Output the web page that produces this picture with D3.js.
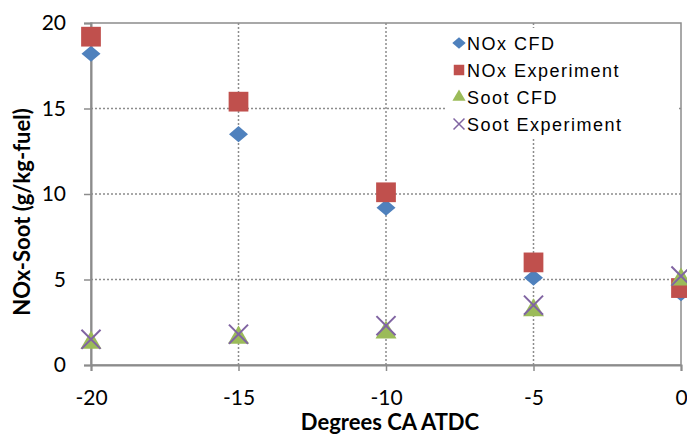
<!DOCTYPE html>
<meta charset="utf-8">
<style>
body { margin: 0; background: #fff; }
text { font-family: "Lato", "Open Sans", sans-serif; }
.tick text { font-size: 21px; fill: #000; }
.title { font-size: 22px; font-weight: bold; }
.legend text { font-family: "Liberation Sans", Arial, sans-serif; font-size: 18px; letter-spacing: 1.5px; }
</style>
<svg width="687" height="437"></svg>
<script src="https://d3js.org/d3.v7.min.js"></script>
<script>

// data
var crankAngle = [-20, -15, -10, -5, 0];
var noxCFD  = [18.2, 13.5, 9.2, 5.1, 4.2];
var noxExp  = [19.2, 15.4, 10.1, 6.0, 4.5];
var sootCFD = [1.3, 1.6, 1.9, 3.2, 5.0];
var sootExp = [1.5, 1.8, 2.3, 3.5, 5.2];
var xTicks = [-20, -15, -10, -5, 0];
var yTicks = [0, 5, 10, 15, 20];

var series = [
  {name: "NOx CFD", values: noxCFD, color: "#4F81BD", shape: "diamond"},
  {name: "NOx Experiment", values: noxExp, color: "#C0504D", shape: "square"},
  {name: "Soot CFD", values: sootCFD, color: "#9BBB59", shape: "triangle"},
  {name: "Soot Experiment", values: sootExp, color: "#8064A2", shape: "cross"}
];

var svg = d3.select("svg");
var pLeft = 91, pRight = 681, pTop = 23, pBottom = 365;

var x = d3.scaleLinear().domain([-20, 0]).range([pLeft, pRight]);
var y = d3.scaleLinear().domain([0, 20]).range([pBottom, pTop]);

// gridlines (dotted)
svg.append("g").selectAll("line")
  .data(yTicks.slice(1, -1)).enter().append("line")
  .attr("x1", pLeft).attr("x2", pRight)
  .attr("y1", d => y(d)).attr("y2", d => y(d))
  .attr("stroke", "#8c8c8c").attr("stroke-width", 1.5).attr("stroke-dasharray", "2,2");
svg.append("g").selectAll("line")
  .data(xTicks.slice(1, -1)).enter().append("line")
  .attr("x1", d => x(d)).attr("x2", d => x(d))
  .attr("y1", pTop).attr("y2", pBottom)
  .attr("stroke", "#8c8c8c").attr("stroke-width", 1.5).attr("stroke-dasharray", "2,2");

// plot border
svg.append("rect")
  .attr("x", pLeft).attr("y", pTop)
  .attr("width", pRight - pLeft).attr("height", pBottom - pTop)
  .attr("fill", "none").attr("stroke", "#8c8c8c").attr("stroke-width", 1.5);

// axes
var xAxis = svg.append("g")
  .attr("transform", "translate(0," + pBottom + ")")
  .call(d3.axisBottom(x).tickValues(xTicks).tickFormat(d => String(d)).tickSize(6).tickPadding(19));
var yAxis = svg.append("g")
  .attr("transform", "translate(" + pLeft + ",0)")
  .call(d3.axisLeft(y).tickValues(yTicks).tickFormat(d => String(d)).tickSize(7).tickPadding(18));
[xAxis, yAxis].forEach(function(a) {
  a.select(".domain").attr("stroke", "#8c8c8c").attr("stroke-width", 2);
  a.selectAll(".tick line").attr("stroke", "#8c8c8c").attr("stroke-width", 1.5);
});

// excel-like wide diamond
var wideDiamond = {
  draw: function(ctx, size) {
    var w = Math.sqrt(size) * 0.75, h = w * 0.85;
    ctx.moveTo(-w, 0); ctx.lineTo(0, -h); ctx.lineTo(w, 0); ctx.lineTo(0, h); ctx.closePath();
  }
};

var symbolFor = {
  diamond: d3.symbol().type(wideDiamond).size(160),
  square: d3.symbol().type(d3.symbolSquare).size(390),
  triangle: d3.symbol().type(d3.symbolTriangle).size(190),
  cross: d3.symbol().type(d3.symbolTimes).size(240)
};
function drawMarker(sel, s, sym, sw) {
  sel.append("path")
    .attr("d", sym[s.shape])
    .attr("fill", s.shape == "cross" ? "none" : s.color)
    .attr("stroke", s.shape == "cross" ? s.color : "none")
    .attr("stroke-width", sw);
}

series.forEach(function(s) {
  svg.append("g").selectAll("g")
    .data(s.values).enter().append("g")
    .attr("transform", (d, i) => "translate(" + x(crankAngle[i]) + "," + y(d) + ")")
    .each(function() { drawMarker(d3.select(this), s, symbolFor, 2); });
});

// legend
var small = {
  diamond: d3.symbol().type(wideDiamond).size(80),
  square: d3.symbol().type(d3.symbolSquare).size(110),
  triangle: d3.symbol().type(d3.symbolTriangle).size(75),
  cross: d3.symbol().type(d3.symbolTimes).size(80)
};
var legend = svg.append("g").attr("class", "legend");
legend.append("rect")
  .attr("x", 446).attr("y", 28).attr("width", 233).attr("height", 110)
  .attr("fill", "#fff");
var rows = legend.selectAll("g").data(series).enter().append("g")
  .attr("transform", (d, i) => "translate(459," + (43 + i * 27) + ")");
rows.each(function(s) {
  var g = d3.select(this);
  drawMarker(g, s, small, 1.5);
  g.append("text").attr("x", 8).attr("y", 6.5).text(s.name);
});

// axis titles
svg.append("text").attr("class", "title")
  .attr("x", 390).attr("y", 430).attr("text-anchor", "middle")
  .text("Degrees CA ATDC");
svg.append("text").attr("class", "title")
  .attr("transform", "translate(30,212) rotate(-90)")
  .attr("text-anchor", "middle")
  .text("NOx-Soot (g/kg-fuel)");

</script>
